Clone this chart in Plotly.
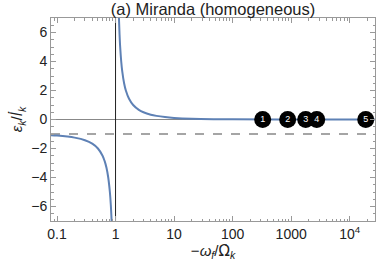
import plotly.graph_objects as go

# curve samples
x_left = [0.079, 0.1, 0.15, 0.2, 0.3, 0.4, 0.5, 0.6, 0.65, 0.7, 0.75, 0.8, 0.83, 0.857]
y_left = [-1.086, -1.111, -1.176, -1.25, -1.429, -1.667, -2.0, -2.5, -2.857, -3.333, -4.0, -5.0, -5.88, -7.0]
x_right = [1.143, 1.17, 1.2, 1.25, 1.3, 1.4, 1.5, 1.7, 2, 2.5, 3, 4, 5, 7, 10, 20, 50, 100, 1000, 27000]
y_right = [7.0, 5.88, 5.0, 4.0, 3.333, 2.5, 2.0, 1.429, 1.0, 0.667, 0.5, 0.333, 0.25, 0.167, 0.111, 0.0526, 0.0204, 0.0101, 0.001, 0.00004]

moon_x = [326, 871, 1770, 2730, 18770]
moon_y = [0, 0, 0, 0, 0]
moon_labels = ["1", "2", "3", "4", "5"]

dashed_y = -1
x_range = [0.079, 27000]
major_x = [0.1, 1, 10, 100, 1000, 10000]
major_x_text = ["0.1", "1", "10", "100", "1000", "10<sup>4</sup>"]
minor_x = [m * 10 ** e for e in range(-2, 5) for m in range(2, 10)]
major_y = [-6, -4, -2, 0, 2, 4, 6]
major_y_text = ["−6", "−4", "−2", "0", "2", "4", "6"]
minor_y = [v / 2 for v in range(-14, 15)]

blue = "#5E81B5"
font = "Liberation Sans, Arial, sans-serif"

fig = go.Figure()
fig.add_trace(go.Scatter(x=x_range, y=[0, 0], mode="lines",
                         line=dict(color="#888888", width=1), showlegend=False))
fig.add_trace(go.Scatter(x=[1, 1], y=[-7, 7], mode="lines",
                         line=dict(color="#222222", width=1), showlegend=False))
fig.add_trace(go.Scatter(x=x_range, y=[dashed_y, dashed_y], mode="lines",
                         line=dict(color="#888888", width=1.6, dash="dash"), showlegend=False))
fig.add_trace(go.Scatter(x=x_left, y=y_left, mode="lines", line_shape="spline",
                         line=dict(color=blue, width=2), showlegend=False))
fig.add_trace(go.Scatter(x=x_right, y=y_right, mode="lines", line_shape="spline",
                         line=dict(color=blue, width=2), showlegend=False))
fig.add_trace(go.Scatter(x=moon_x, y=moon_y, mode="markers+text", text=moon_labels,
                         textposition="middle center",
                         textfont=dict(color="white", size=9, family=font),
                         marker=dict(color="black", size=17), showlegend=False))

# minor tick helper axes
fig.add_trace(go.Scatter(x=[1], y=[0], xaxis="x2", yaxis="y2", mode="markers",
                         marker=dict(opacity=0), showlegend=False, hoverinfo="skip"))

axis_common = dict(showgrid=False, zeroline=False, ticks="inside", automargin=False,
                   linecolor="#999999", tickcolor="#999999", mirror="ticks",
                   showline=True, tickfont=dict(size=14))

dj = '<span style="font-family:DejaVu Sans">'
fig.update_layout(
    width=377, height=273,
    margin=dict(l=51, r=2, t=18, b=52),
    paper_bgcolor="white", plot_bgcolor="white",
    font=dict(family=font, size=14, color="#222222"),
    title=dict(text="(a) Miranda (homogeneous)", x=0.565, xanchor="center",
               y=0.967, yanchor="middle", font=dict(size=16.5, color="#222222")),
    xaxis=dict(type="log", range=[-1.1024, 4.4314], tickvals=major_x, ticktext=major_x_text,
               ticklen=5,
               title=dict(text="−<i>ω</i><sub><i>f</i></sub>/" + dj + "Ω̇</span><sub><i>k</i></sub>",
                          standoff=4, font=dict(size=15)),
               **axis_common),
    yaxis=dict(range=[-7, 7], tickvals=major_y, ticktext=major_y_text, ticklen=5,
               title=dict(text="<i>ε</i><sub><i>k</i></sub>/" + dj + "<i>l̇</i></span><sub><i>k</i></sub>",
                          standoff=4, font=dict(size=15)),
               **axis_common),
    xaxis2=dict(type="log", range=[-1.1024, 4.4314], overlaying="x", tickvals=minor_x,
                showticklabels=False, ticklen=2.5, showgrid=False, zeroline=False,
                ticks="inside", tickcolor="#999999", mirror="ticks", showline=False,
                anchor="y2", side="bottom", automargin=False),
    yaxis2=dict(range=[-7, 7], overlaying="y", tickvals=minor_y, showticklabels=False,
                ticklen=2.5, showgrid=False, zeroline=False, ticks="inside", automargin=False,
                tickcolor="#999999", mirror="ticks", showline=False, anchor="x2", side="left"),
)

fig.write_html("out.html", config={"displayModeBar": False},
               post_script="document.body.style.margin='0';")
